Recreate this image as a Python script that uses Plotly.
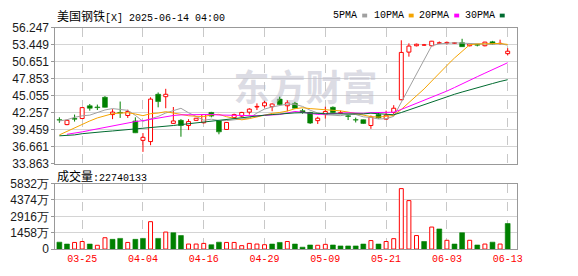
import plotly.graph_objects as go

# ---------------- data ----------------
dates = ["03-20", "03-21", "03-24", "03-25", "03-26", "03-27", "03-28", "03-31", "04-01", "04-02",
         "04-03", "04-04", "04-07", "04-08", "04-09", "04-10", "04-11", "04-14", "04-15", "04-16",
         "04-17", "04-21", "04-22", "04-23", "04-24", "04-25", "04-28", "04-29", "04-30", "05-01",
         "05-02", "05-05", "05-06", "05-07", "05-08", "05-09", "05-12", "05-13", "05-14", "05-15",
         "05-16", "05-19", "05-20", "05-21", "05-22", "05-23", "05-27", "05-28", "05-29", "05-30",
         "06-02", "06-03", "06-04", "06-05", "06-06", "06-09", "06-10", "06-11", "06-12", "06-13"]

opens = [41.1, 40.3, 41.3, 41.3, 43.4, 43.2, 44.8, 41.95, 42.3, 41.8,
         40.9, 37.7, 37.5, 45.3, 44.9, 40.5, 41.0, 40.15, 41.0, 40.6,
         42.3, 40.9, 39.5, 41.45, 41.7, 42.35, 43.2, 43.4, 43.25, 44.5,
         43.4, 43.8, 42.6, 42.3, 40.95, 41.95, 43.15, 42.15, 41.75, 41.1,
         41.1, 40.15, 41.95, 41.2, 42.3, 44.4, 52.25, 53.3, 53.4, 53.3,
         53.7, 53.75, 53.7, 53.8, 53.3, 53.5, 53.3, 53.95, 53.65, 52.0]
highs = [41.5, 41.1, 41.95, 43.15, 43.7, 43.6, 45.0, 42.85, 44.1, 42.75,
         41.5, 38.9, 44.8, 45.6, 46.2, 43.2, 41.2, 41.2, 41.4, 42.0,
         42.4, 40.95, 40.7, 42.1, 42.4, 43.0, 43.8, 44.2, 43.8, 44.9,
         44.3, 44.05, 42.9, 42.4, 41.6, 43.25, 43.3, 42.6, 41.95, 41.45,
         41.15, 41.8, 42.2, 42.6, 43.5, 54.2, 53.7, 53.65, 53.6, 54.1,
         54.0, 54.0, 53.9, 54.45, 53.7, 53.6, 53.95, 54.1, 54.3, 52.9]
lows = [40.6, 40.2, 40.8, 41.25, 42.6, 42.7, 43.1, 41.2, 41.4, 41.4,
        38.9, 35.8, 36.9, 43.15, 43.0, 40.4, 38.3, 39.4, 40.95, 40.5,
        41.5, 38.7, 39.45, 41.35, 41.5, 41.95, 42.7, 43.1, 42.5, 43.5,
        42.5, 42.9, 42.1, 40.4, 40.4, 41.3, 42.1, 42.05, 41.05, 40.65,
        40.4, 39.6, 41.3, 41.1, 42.0, 44.3, 51.5, 53.2, 53.3, 53.2,
        53.6, 53.5, 53.6, 53.1, 53.2, 53.2, 53.2, 53.5, 53.5, 51.7]
closes = [41.05, 41.0, 41.2, 43.1, 43.0, 43.1, 43.15, 42.36, 42.2, 42.45,
          38.95, 38.2, 44.5, 44.1, 45.3, 40.9, 40.15, 40.8, 41.35, 41.95,
          41.7, 39.1, 40.65, 41.95, 42.3, 42.85, 43.3, 43.9, 43.7, 43.6,
          43.9, 43.0, 42.3, 40.55, 41.35, 42.45, 42.3, 42.28, 41.65, 41.05,
          40.5, 41.55, 41.4, 41.85, 43.0, 52.2, 53.25, 53.55, 53.45, 54.05,
          53.8, 53.85, 53.8, 53.15, 53.6, 53.4, 53.9, 53.6, 53.7, 52.4]
prev_close = 41.3

volumes = [614, 446, 589, 673, 446, 336, 1009, 866, 950, 589,
           866, 950, 2439, 950, 1514, 1455, 1203, 446, 446, 505,
           387, 614, 589, 589, 303, 505, 446, 387, 446, 589,
           673, 446, 168, 362, 336, 420, 362, 278, 278, 278,
           446, 757, 446, 673, 925, 5382, 4314, 1203, 673, 1960,
           1791, 782, 446, 1455, 782, 362, 446, 614, 446, 2274]  # 万

ma5 = [40.9, 41.1, 41.5, 41.75, 41.86, 42.28, 42.71, 42.94, 42.76, 42.65,
       41.82, 40.83, 41.26, 41.64, 42.21, 42.6, 42.99, 42.25, 41.7, 41.03,
       41.19, 40.98, 40.95, 41.07, 41.14, 41.37, 42.21, 42.86, 43.21, 43.47,
       43.68, 43.62, 43.3, 42.67, 42.22, 41.93, 41.79, 41.77, 41.98, 41.96,
       41.58, 41.47, 41.23, 41.27, 41.66, 44.0, 46.34, 48.77, 51.09, 53.3,
       53.62, 53.74, 53.79, 53.73, 53.64, 53.56, 53.57, 53.53, 53.64, 53.4]
ma10 = [38.6, 39.2, 39.8, 40.4, 40.9, 41.4, 41.8, 42.1, 42.2, 42.26,
        42.05, 41.77, 42.1, 42.2, 42.43, 42.21, 41.91, 41.76, 41.67, 41.62,
        41.9, 41.99, 41.6, 41.39, 41.09, 41.28, 41.6, 41.9, 42.14, 42.3,
        42.53, 42.92, 43.08, 42.94, 42.85, 42.8, 42.7, 42.56, 42.36, 42.1,
        41.76, 41.62, 41.53, 41.66, 41.82, 42.8, 43.9, 45.0, 46.18, 47.48,
        48.81, 50.04, 51.28, 52.41, 53.47, 53.59, 53.65, 53.66, 53.68, 53.52]
ma20 = [None, 38.7, 38.85, 39.1, 39.35, 39.6, 39.85, 40.1, 40.35, 40.55,
        40.8, 40.95, 41.15, 41.35, 41.65, 41.8, 41.9, 41.95, 41.95, 41.94,
        41.98, 41.88, 41.85, 41.8, 41.76, 41.75, 41.76, 41.83, 41.9, 41.96,
        42.22, 42.46, 42.34, 42.17, 41.97, 42.04, 42.15, 42.23, 42.25, 42.2,
        42.15, 42.27, 42.31, 42.3, 42.34, 42.8, 43.3, 43.78, 44.27, 44.79,
        45.29, 45.83, 46.41, 47.04, 47.65, 48.2, 48.78, 49.33, 49.93, 50.5]
ma30 = [38.45, 38.5, 38.6, 38.8, 38.95, 39.05, 39.15, 39.25, 39.35, 39.45,
        39.55, 39.65, 39.8, 39.9, 40.0, 40.15, 40.3, 40.45, 40.6, 40.75,
        40.9, 41.05, 41.2, 41.35, 41.5, 41.65, 41.75, 41.85, 41.95, 42.06,
        42.16, 42.23, 42.26, 42.18, 42.12, 42.1, 42.07, 42.07, 42.06, 42.01,
        42.06, 42.18, 42.07, 42.0, 41.92, 42.29, 42.73, 43.15, 43.56, 43.96,
        44.37, 44.86, 45.3, 45.67, 46.05, 46.4, 46.75, 47.07, 47.41, 47.7]

price_ticks = [33.863, 36.661, 39.459, 42.257, 45.055, 47.853, 50.651, 53.449, 56.247]
vol_ticks = [0, 1458, 2916, 4374, 5832]
tick_dates = ["03-25", "04-04", "04-16", "04-29", "05-09", "05-21", "06-03", "06-13"]
ma_names = ["5PMA", "10PMA", "20PMA", "30PMA"]
stock_name = "美国钢铁"
stock_code = "[X]"
stamp = " 2025-06-14 04:00"
vol_label = "成交量"
last_volume = 22740133
watermark = "东方财富"

# ---------------- style ----------------
W, H = 578, 276
RED, GREEN = "#FF0000", "#008000"
MA_COLORS = ["#A0A0A0", "#F5A400", "#FF00FF", "#006B30"]
GRID = "#D4D4D4"
FRAME = "#999999"
MONO = "Liberation Mono, Noto Sans CJK SC, monospace"
SANS = "Liberation Sans, Arial, sans-serif"
CJK = "Noto Sans CJK SC"


def px(x):
    return x / W


def py(y):
    return 1 - y / H


n = len(closes)
xs = list(range(n))
tick_idx = [dates.index(d) for d in tick_dates]

fig = go.Figure()

# watermark (drawn first)
fig.add_trace(go.Scatter(x=[32.4], y=[45.7], mode="text", text=[watermark],
                         textfont=dict(family=CJK, size=36, color="rgba(190,190,205,0.55)", weight="bold"),
                         hoverinfo="skip", showlegend=False, xaxis="x", yaxis="y"))

# ---------- candles ----------
up = [c >= o for o, c in zip(opens, closes)]
for is_up in (True, False):
    idx = [i for i in xs if up[i] == is_up]
    col = RED if is_up else GREEN
    wx, wy = [], []
    for i in idx:
        top = max(opens[i], closes[i])
        bot = min(opens[i], closes[i])
        if highs[i] > top:
            wx += [i, i, None]
            wy += [highs[i], top, None]
        if lows[i] < bot:
            wx += [i, i, None]
            wy += [bot, lows[i], None]
    fig.add_trace(go.Scatter(x=wx, y=wy, mode="lines", line=dict(color=col, width=1),
                             hoverinfo="skip", showlegend=False, xaxis="x", yaxis="y"))
    fig.add_trace(go.Bar(
        x=idx,
        y=[max(abs(closes[i] - opens[i]), 0.03) for i in idx],
        base=[min(opens[i], closes[i]) for i in idx],
        width=0.52 if is_up else 0.64,
        marker=dict(color="white" if is_up else GREEN,
                    line=dict(color=col, width=1 if is_up else 0.6)),
        showlegend=False, xaxis="x", yaxis="y"))

# ---------- moving averages ----------
for name, vals, col in zip(ma_names, [ma5, ma10, ma20, ma30], MA_COLORS):
    fig.add_trace(go.Scatter(x=xs, y=vals, mode="lines", name=name,
                             line=dict(color=col, width=1), showlegend=False,
                             xaxis="x", yaxis="y"))

# ---------- volume ----------
prevs = [prev_close] + closes[:-1]
vup = [c >= p for c, p in zip(closes, prevs)]
for is_up in (True, False):
    idx = [i for i in xs if vup[i] == is_up]
    col = RED if is_up else GREEN
    fig.add_trace(go.Bar(
        x=idx, y=[volumes[i] for i in idx],
        width=0.52 if is_up else 0.64,
        marker=dict(color="white" if is_up else GREEN,
                    line=dict(color=col, width=1 if is_up else 0.6)),
        showlegend=False, xaxis="x2", yaxis="y2"))

xrange = [-0.52, 60.17]
xdom = [px(56), px(522)]
common_x = dict(range=xrange, domain=xdom, tickvals=tick_idx, showgrid=True,
                gridcolor="#C8C8C8", griddash="dash", gridwidth=1, zeroline=False,
                showline=True, mirror=True, linecolor=FRAME, linewidth=1, ticks="")

fig.update_layout(
    width=W, height=H, margin=dict(l=0, r=0, t=0, b=0),
    paper_bgcolor="white", plot_bgcolor="white",
    barmode="overlay", showlegend=False,
    xaxis=dict(**common_x, anchor="y", showticklabels=False),
    yaxis=dict(domain=[py(165), py(22)], range=[price_ticks[0], price_ticks[-1]],
               tickvals=price_ticks, ticktext=[f"{v:.3f}" for v in price_ticks],
               tickfont=dict(family=SANS, size=12, color="#1a1a1a"),
               showgrid=True, gridcolor=GRID, zeroline=False,
               showline=True, mirror=True, linecolor=FRAME, ticks="outside",
               ticklen=3, tickcolor=FRAME, anchor="x"),
    xaxis2=dict(**common_x, anchor="y2", showticklabels=True,
                ticktext=[dates[i] for i in tick_idx],
                tickfont=dict(family=MONO, size=10, color=RED)),
    yaxis2=dict(domain=[py(255), py(186)], range=[vol_ticks[0], vol_ticks[-1]],
                tickvals=vol_ticks, ticktext=[f"{v}万" if v else "0" for v in vol_ticks],
                tickfont=dict(family=SANS, size=12, color="#1a1a1a"),
                showgrid=True, gridcolor=GRID, zeroline=False,
                showline=True, mirror=True, linecolor=FRAME, ticks="outside",
                ticklen=3, tickcolor=FRAME, anchor="x2"),
)

cjk_span = '<span style="font-family:Noto Sans CJK SC;font-size:12px">{}</span>'
annotations = [
    dict(x=px(56), y=py(9), xref="paper", yref="paper", xanchor="left", yanchor="middle",
         showarrow=False, text=cjk_span.format(stock_name) + stock_code + stamp,
         font=dict(family=MONO, size=10, color="#000")),
    dict(x=px(56), y=py(177), xref="paper", yref="paper", xanchor="left", yanchor="middle",
         showarrow=False, text=cjk_span.format(vol_label) + ":" + str(last_volume),
         font=dict(family=MONO, size=10, color="#000")),
]
shapes = []
legend_right = [363, 410, 456, 502]
for name, col, xr in zip(ma_names, MA_COLORS, legend_right):
    annotations.append(dict(x=px(xr), y=py(9), xref="paper", yref="paper", xanchor="right",
                            yanchor="middle", showarrow=False, text=name,
                            font=dict(family=MONO, size=10, color="#000")))
    shapes.append(dict(type="rect", xref="paper", yref="paper", x0=px(xr + 3), x1=px(xr + 8),
                       y0=py(11), y1=py(7), fillcolor=col, line=dict(width=0)))
fig.update_layout(annotations=annotations, shapes=shapes)

fig.write_html("out.html")
